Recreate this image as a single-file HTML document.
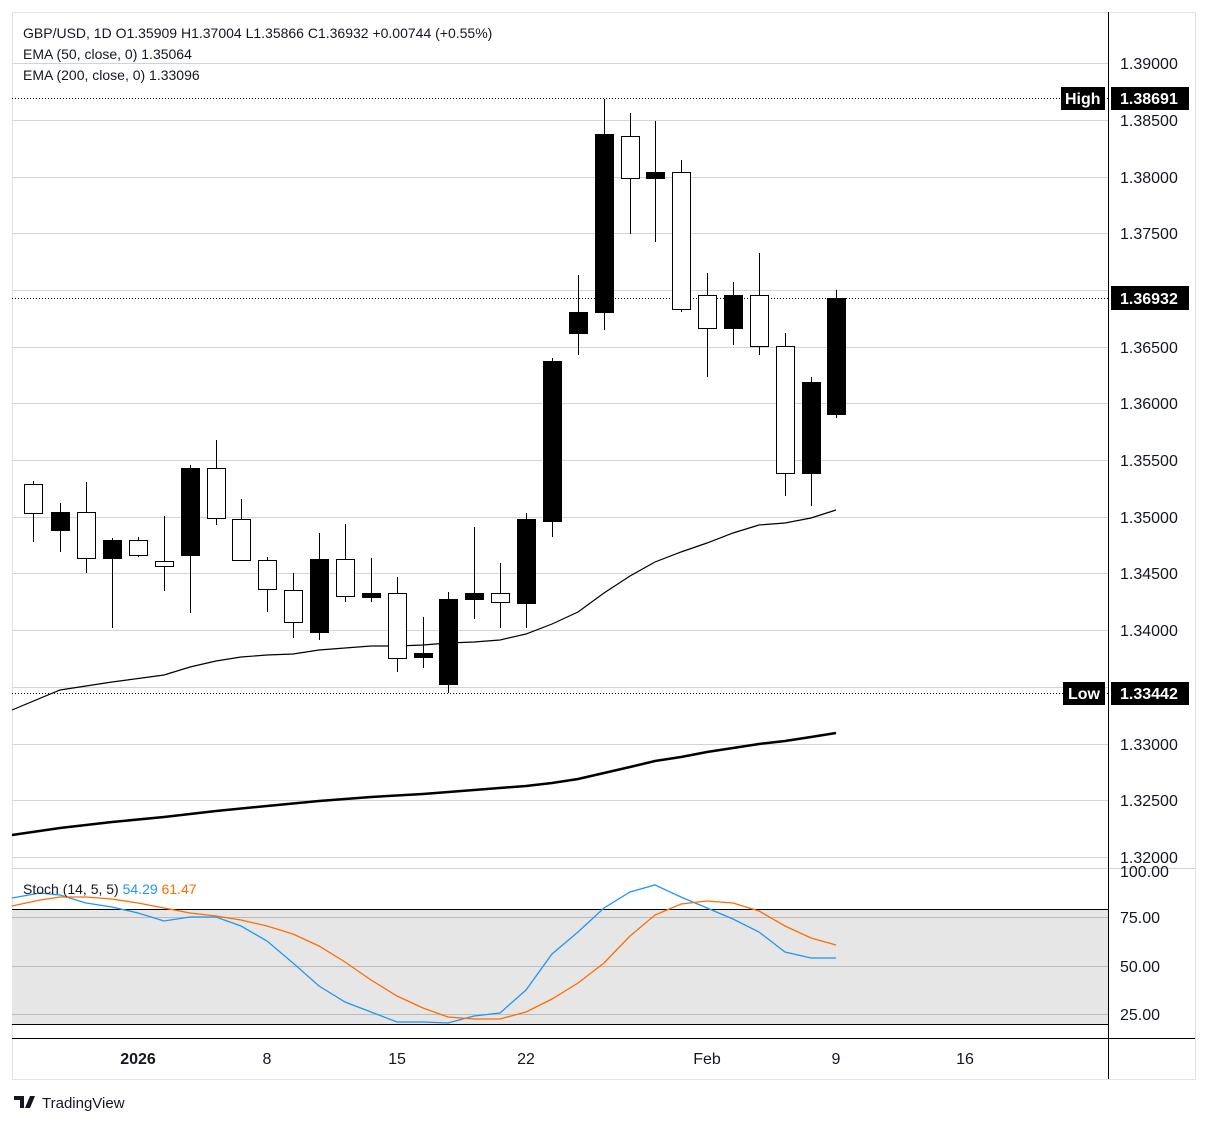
<!DOCTYPE html>
<html><head><meta charset="utf-8"><style>
body{margin:0;background:#fff;}
svg{display:block;font-family:"Liberation Sans",sans-serif;}
</style></head><body>
<svg width="1208" height="1123" viewBox="0 0 1208 1123">
<rect x="12.5" y="12.5" width="1183" height="1067" fill="#fff" stroke="#e0e3eb"/>
<g stroke="#d0d3da" stroke-width="1">
<line x1="12" x2="1108" y1="63.5" y2="63.5"/><line x1="12" x2="1108" y1="120.5" y2="120.5"/><line x1="12" x2="1108" y1="177.5" y2="177.5"/><line x1="12" x2="1108" y1="233.5" y2="233.5"/><line x1="12" x2="1108" y1="290.5" y2="290.5"/><line x1="12" x2="1108" y1="347.5" y2="347.5"/><line x1="12" x2="1108" y1="403.5" y2="403.5"/><line x1="12" x2="1108" y1="460.5" y2="460.5"/><line x1="12" x2="1108" y1="517.5" y2="517.5"/><line x1="12" x2="1108" y1="573.5" y2="573.5"/><line x1="12" x2="1108" y1="630.5" y2="630.5"/><line x1="12" x2="1108" y1="687.5" y2="687.5"/><line x1="12" x2="1108" y1="744.5" y2="744.5"/><line x1="12" x2="1108" y1="800.5" y2="800.5"/><line x1="12" x2="1108" y1="857.5" y2="857.5"/>
</g>
<line x1="12" x2="1195" y1="868.5" y2="868.5" stroke="#d0d3da"/>
<rect x="12" y="909" width="1096" height="115" fill="#e6e6e6"/>
<line x1="12" x2="1108" y1="909.5" y2="909.5" stroke="#000"/>
<line x1="12" x2="1108" y1="1024.5" y2="1024.5" stroke="#000"/>
<g stroke="#bbb"><line x1="12" x2="1108" y1="917.5" y2="917.5"/><line x1="12" x2="1108" y1="966.5" y2="966.5"/><line x1="12" x2="1108" y1="1014.5" y2="1014.5"/></g>
<line x1="12" x2="1195" y1="1038.5" y2="1038.5" stroke="#000"/>
<line x1="1108.5" x2="1108.5" y1="12" y2="1079" stroke="#000"/>
<g stroke="#000" stroke-dasharray="1,2"><line x1="12" x2="1108" y1="98.5" y2="98.5"/><line x1="12" x2="1108" y1="298.5" y2="298.5"/><line x1="12" x2="1108" y1="693.5" y2="693.5"/></g>
<polyline fill="none" stroke="#000" stroke-width="1.2" points="12,710 60,690 112,682 164,675 190,667 216,661 241,657 267,655 293,654 319,650 345,648 371,646 397,646 423,645 448,643 474,642 500,640 526,634 552,624 578,612 604,593 630,576 655,562 681,552 707,543 733,533 759,525 785,523 811,518 836,510"/>
<polyline fill="none" stroke="#000" stroke-width="2.5" points="12,835 60,828 112,822 164,817 216,811 267,806 319,801 371,797 423,794 474,790 526,786 552,783 578,779 604,773 630,767 655,761 681,757 707,752 733,748 759,744 785,741 811,737 836,733"/>
<g id="c" stroke="#000" stroke-width="1"></g>
<polyline fill="none" stroke="#2196f3" stroke-width="1.3" points="12,898 40,893 60,895 86,903 112,907 138,913 164,921 190,917 216,917 241,926 267,941 293,963 319,986 345,1002 371,1012 397,1022 423,1022 448,1023 474,1016 500,1013 526,990 552,954 578,932 604,908 630,892 655,885 681,897 707,908 733,919 759,932 785,952 811,958 836,958"/>
<polyline fill="none" stroke="#ff6d00" stroke-width="1.3" points="12,906 40,900 60,897 86,897 112,899 138,903 164,908 190,913 216,916 241,920 267,926 293,934 319,946 345,962 371,980 397,996 423,1008 448,1017 474,1019 500,1019 526,1012 552,999 578,983 604,963 630,936 655,915 681,904 707,901 733,903 759,911 785,926 811,938 836,945"/>
<g font-size="14" fill="#131722">
<text x="23" y="38">GBP/USD, 1D  O1.35909  H1.37004  L1.35866  C1.36932  +0.00744 (+0.55%)</text>
<text x="23" y="59">EMA (50, close, 0)  1.35064</text>
<text x="23" y="80">EMA (200, close, 0)  1.33096</text>
<text x="23" y="894">Stoch (14, 5, 5)  <tspan fill="#2196f3">54.29</tspan>  <tspan fill="#ff6d00">61.47</tspan></text>
</g>
<g font-size="16" fill="#131722">
<text x="1120" y="69">1.39000</text><text x="1120" y="126">1.38500</text><text x="1120" y="183">1.38000</text><text x="1120" y="239">1.37500</text><text x="1120" y="353">1.36500</text><text x="1120" y="409">1.36000</text><text x="1120" y="466">1.35500</text><text x="1120" y="523">1.35000</text><text x="1120" y="579">1.34500</text><text x="1120" y="636">1.34000</text><text x="1120" y="750">1.33000</text><text x="1120" y="806">1.32500</text><text x="1120" y="863">1.32000</text>
<text x="1120" y="877">100.00</text><text x="1120" y="923">75.00</text><text x="1120" y="972">50.00</text><text x="1120" y="1020">25.00</text>
<text x="138" y="1064" text-anchor="middle" font-weight="bold">2026</text><text x="267" y="1064" text-anchor="middle">8</text><text x="397" y="1064" text-anchor="middle">15</text><text x="526" y="1064" text-anchor="middle">22</text><text x="707" y="1064" text-anchor="middle">Feb</text><text x="836" y="1064" text-anchor="middle">9</text><text x="965" y="1064" text-anchor="middle">16</text>
</g>
<g font-size="16" fill="#fff" font-weight="bold">
<rect x="1061" y="87" width="44" height="23" fill="#000"/><text x="1065" y="104">High</text>
<rect x="1111" y="87" width="78" height="23" fill="#000"/><text x="1120" y="104">1.38691</text>
<rect x="1111" y="286" width="78" height="24" fill="#000"/><text x="1120" y="304">1.36932</text>
<rect x="1063" y="682" width="42" height="23" fill="#000"/><text x="1068" y="699">Low</text>
<rect x="1111" y="682" width="78" height="23" fill="#000"/><text x="1120" y="699">1.33442</text>
</g>
<text x="42" y="1108" font-size="15" fill="#131722">TradingView</text>
<path d="M14 1096h10v12h-4v-8h-6zM25 1108l5-12h5l-5 12z" fill="#131722"/>
<g stroke="#000">
<line x1="33.5" x2="33.5" y1="481" y2="542"/><rect x="24.5" y="484.5" width="18" height="29" fill="#fff"/>
<line x1="60.5" x2="60.5" y1="503" y2="552"/><rect x="51.5" y="512.5" width="18" height="18" fill="#000"/>
<line x1="86.5" x2="86.5" y1="482" y2="573"/><rect x="77.5" y="512.5" width="18" height="46" fill="#fff"/>
<line x1="112.5" x2="112.5" y1="538" y2="628"/><rect x="103.5" y="540.5" width="18" height="18" fill="#000"/>
<line x1="138.5" x2="138.5" y1="537" y2="557"/><rect x="129.5" y="540.5" width="18" height="15" fill="#fff"/>
<line x1="164.5" x2="164.5" y1="516" y2="591"/><rect x="155.5" y="561.5" width="18" height="5" fill="#fff"/>
<line x1="190.5" x2="190.5" y1="465" y2="613"/><rect x="181.5" y="468.5" width="18" height="87" fill="#000"/>
<line x1="216.5" x2="216.5" y1="440" y2="525"/><rect x="207.5" y="468.5" width="18" height="50" fill="#fff"/>
<line x1="241.5" x2="241.5" y1="499" y2="560"/><rect x="232.5" y="519.5" width="18" height="41" fill="#fff"/>
<line x1="267.5" x2="267.5" y1="557" y2="612"/><rect x="258.5" y="560.5" width="18" height="29" fill="#fff"/>
<line x1="293.5" x2="293.5" y1="573" y2="638"/><rect x="284.5" y="590.5" width="18" height="32" fill="#fff"/>
<line x1="319.5" x2="319.5" y1="533" y2="640"/><rect x="310.5" y="559.5" width="18" height="73" fill="#000"/>
<line x1="345.5" x2="345.5" y1="524" y2="602"/><rect x="336.5" y="559.5" width="18" height="37" fill="#fff"/>
<line x1="371.5" x2="371.5" y1="558" y2="602"/><rect x="362.5" y="593.5" width="18" height="4" fill="#000"/>
<line x1="397.5" x2="397.5" y1="577" y2="672"/><rect x="388.5" y="593.5" width="18" height="65" fill="#fff"/>
<line x1="423.5" x2="423.5" y1="617" y2="668"/><rect x="414.5" y="653.5" width="18" height="4" fill="#000"/>
<line x1="448.5" x2="448.5" y1="592" y2="693"/><rect x="439.5" y="599.5" width="18" height="85" fill="#000"/>
<line x1="474.5" x2="474.5" y1="527" y2="619"/><rect x="465.5" y="593.5" width="18" height="6" fill="#000"/>
<line x1="500.5" x2="500.5" y1="563" y2="628"/><rect x="491.5" y="593.5" width="18" height="9" fill="#fff"/>
<line x1="526.5" x2="526.5" y1="513" y2="628"/><rect x="517.5" y="519.5" width="18" height="84" fill="#000"/>
<line x1="552.5" x2="552.5" y1="358" y2="537"/><rect x="543.5" y="361.5" width="18" height="160" fill="#000"/>
<line x1="578.5" x2="578.5" y1="275" y2="355"/><rect x="569.5" y="312.5" width="18" height="21" fill="#000"/>
<line x1="604.5" x2="604.5" y1="99" y2="330"/><rect x="595.5" y="134.5" width="18" height="178" fill="#000"/>
<line x1="630.5" x2="630.5" y1="113" y2="234"/><rect x="621.5" y="136.5" width="18" height="42" fill="#fff"/>
<line x1="655.5" x2="655.5" y1="121" y2="242"/><rect x="646.5" y="172.5" width="18" height="6" fill="#000"/>
<line x1="681.5" x2="681.5" y1="160" y2="312"/><rect x="672.5" y="172.5" width="18" height="137" fill="#fff"/>
<line x1="707.5" x2="707.5" y1="273" y2="377"/><rect x="698.5" y="295.5" width="18" height="33" fill="#fff"/>
<line x1="733.5" x2="733.5" y1="282" y2="345"/><rect x="724.5" y="295.5" width="18" height="33" fill="#000"/>
<line x1="759.5" x2="759.5" y1="253" y2="355"/><rect x="750.5" y="295.5" width="18" height="51" fill="#fff"/>
<line x1="785.5" x2="785.5" y1="333" y2="496"/><rect x="776.5" y="346.5" width="18" height="127" fill="#fff"/>
<line x1="811.5" x2="811.5" y1="377" y2="506"/><rect x="802.5" y="382.5" width="18" height="91" fill="#000"/>
<line x1="836.5" x2="836.5" y1="290" y2="418"/><rect x="827.5" y="298.5" width="18" height="116" fill="#000"/>
</g>
</svg>
</body></html>
